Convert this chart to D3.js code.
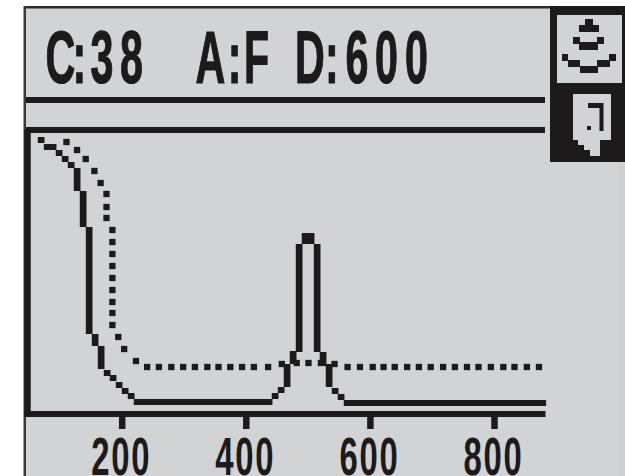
<!DOCTYPE html>
<html>
<head>
<meta charset="utf-8">
<script src="https://cdn.jsdelivr.net/npm/d3@7"></script>
<style>
  html, body { margin: 0; padding: 0; background: #fff; overflow: hidden; }
  svg { display: block; }
  text { font-family: "Liberation Sans", sans-serif; font-weight: 700; fill: #1c1a1b; }
</style>
</head>
<body>
<div id="chart"></div>
<script>
// status line
const statusLabels = ["C:38", "A:F", "D:600"];

// x axis
const tickValues = [200, 400, 600, 800];

// solid trace, one entry per LCD column: centre, top and bottom of the lit run
const solidFreq = [
  69.6, 79.3, 88.9, 98.6, 108.3, 118, 127.6, 137.3, 147, 156.6,
  166.3, 176, 185.6, 195.3, 205, 214.7, 224.3, 234, 243.7, 253.3,
  263, 272.7, 282.3, 292, 301.7, 311.4, 321, 330.7, 340.4, 350,
  359.7, 369.4, 379, 388.7, 398.4, 408, 417.7, 427.4, 437, 446.7,
  456.4, 466, 475.7, 485.4, 495, 504.7, 514.4, 524, 533.7, 543.4,
  553, 562.7, 572.4, 582, 591.7, 601.4, 611, 620.7, 630.4, 640,
  649.7, 659.4, 669, 678.7, 688.4, 698, 707.7, 717.4, 727, 736.7,
  746.4, 756, 765.7, 775.4, 785, 794.7, 804.4, 814, 823.7, 833.4,
  843, 852.7, 862.4, 872, 878
];
const solidHigh = [
  277, 270, 270, 264, 258, 252, 246, 223, 187, 80,
  68, 44, 39, 32, 26, 21, 15, 15, 15, 15,
  15, 15, 15, 15, 15, 15, 15, 15, 15, 15,
  15, 15, 15, 15, 15, 15, 15, 15, 15, 21,
  27, 50, 63, 170, 181, 181, 170, 62, 50, 26,
  20, 14, 14, 14, 14, 14, 14, 14, 14, 14,
  14, 14, 14, 14, 14, 14, 14, 14, 14, 14,
  14, 14, 14, 14, 14, 14, 14, 14, 14, 14,
  14, 14, 14, 14, 14
];
const solidLow = [
  271, 264, 264, 258, 252, 246, 223, 187, 80, 68,
  45, 38, 33, 26, 20, 15, 9, 9, 9, 9,
  9, 9, 9, 9, 9, 9, 9, 9, 9, 9,
  9, 9, 9, 9, 9, 9, 9, 9, 9, 15,
  21, 27, 50, 62, 170, 170, 62, 48, 27, 20,
  14, 8, 8, 8, 8, 8, 8, 8, 8, 8,
  8, 8, 8, 8, 8, 8, 8, 8, 8, 8,
  8, 8, 8, 8, 8, 8, 8, 8, 8, 8,
  8, 8, 8, 8, 8
];

// dotted trace
const dotFreq = [
  111, 128, 142, 156, 166, 175.5, 175.5, 175.5, 185, 185,
  185, 185, 185, 185, 185, 185, 185, 194.5, 204, 223,
  241, 260, 280, 299, 318, 338, 356, 375, 394, 413,
  436, 458, 482, 501, 521, 543, 564, 584, 604.5, 622,
  640, 660, 679, 698, 718, 737, 756.5, 775, 795, 815,
  833, 853, 872.5
];
const dotAmp = [
  272, 264, 255, 243, 231, 220, 207, 196, 184, 172,
  160, 148, 136, 124, 112, 101, 89, 77, 65, 53,
  47, 47, 47, 47, 47, 47, 47, 47, 47, 47,
  47, 50, 51, 51, 51, 50, 47, 47, 47, 47,
  47, 47, 47, 47, 47, 47, 47, 47, 47, 47,
  47, 47, 47
];

const width = 625;
const height = 476;
const panel = "#d1d3d4";
const ink = "#1c1a1b";

const svg = d3.select("#chart")
  .append("svg")
  .attr("width", width)
  .attr("height", height);

// Display panel
svg.append("rect").attr("x", 24).attr("y", 6).attr("width", 601).attr("height", 470).attr("fill", "#cfcfcf");
svg.append("rect").attr("x", 26).attr("y", 8).attr("width", 592).attr("height", 468).attr("fill", panel);
svg.append("rect").attr("x", 24).attr("y", 6).attr("width", 601).attr("height", 2.5).attr("fill", "#2b2a2b");
svg.append("rect").attr("x", 23.5).attr("y", 6).attr("width", 2.5).attr("height", 470).attr("fill", "#3a393a");

// Scales
const x = d3.scaleLinear().domain([200, 800]).range([121.7, 494]);
const y = d3.scaleLinear().domain([0, 284]).range([414, 130]);

// Header rules
[100, 130].forEach(ry => {
  svg.append("line")
    .attr("x1", 26).attr("x2", 545)
    .attr("y1", ry).attr("y2", ry)
    .attr("stroke", ink)
    .attr("stroke-width", 6);
});

// Condensed lettering: no condensed face is installed, so squeeze it and place each glyph
function placeGlyphs(sel, left, squeeze) {
  sel.attr("x", left.map(v => (v / squeeze).toFixed(1)).join(" "));
}

// Status line
const statusLeft = [
  [45.5, 72.5, 90.5, 120],
  [195.5, 227.8, 244],
  [295, 325, 345.5, 375, 405]
];
const statusSqueeze = 0.55;
statusLabels.forEach((label, i) => {
  svg.append("text")
    .attr("transform", `translate(0, 83) scale(${statusSqueeze}, 1)`)
    .attr("font-size", 75)
    .attr("stroke", ink)
    .attr("stroke-width", 1.2)
    .text(label)
    .call(placeGlyphs, statusLeft[i], statusSqueeze);
});

// Plot frame
svg.append("line")
  .attr("x1", 27.5).attr("x2", 27.5)
  .attr("y1", 130).attr("y2", 414)
  .attr("stroke", ink)
  .attr("stroke-width", 6.5);

// Axis
const xAxis = d3.axisBottom(x)
  .tickValues(tickValues)
  .tickSize(15)
  .tickSizeOuter(0)
  .tickPadding(9);

const axisG = svg.append("g")
  .attr("transform", `translate(0, ${y(0)})`)
  .call(xAxis);

axisG.select(".domain")
  .attr("d", `M24,0H${x(883)}`)
  .attr("stroke", ink)
  .attr("stroke-width", 6);

axisG.selectAll(".tick line")
  .attr("stroke", ink)
  .attr("stroke-width", 6.5);

const tickSqueeze = 0.62;
axisG.selectAll(".tick text")
  .attr("font-size", 53)
  .attr("font-family", null)
  .attr("text-anchor", "start")
  .attr("transform", `translate(0, 61) scale(${tickSqueeze}, 1)`)
  .attr("y", 0)
  .attr("dy", 0)
  .style("fill", ink)
  .call(placeGlyphs, [-31, -11, 9], tickSqueeze);

// Solid trace
const columnWidth = x(200 + 9.67) - x(200);
svg.append("g")
  .attr("fill", ink)
  .selectAll("rect")
  .data(solidFreq)
  .join("rect")
  .attr("x", d => x(d) - columnWidth / 2)
  .attr("y", (d, i) => y(solidHigh[i]))
  .attr("width", columnWidth + 0.7)
  .attr("height", (d, i) => y(solidLow[i]) - y(solidHigh[i]));

// Dotted trace
const dotSize = 6.3;
svg.append("g")
  .attr("fill", ink)
  .selectAll("rect")
  .data(dotFreq)
  .join("rect")
  .attr("x", d => x(d) - dotSize / 2)
  .attr("y", (d, i) => y(dotAmp[i]) - dotSize / 2)
  .attr("width", dotSize)
  .attr("height", dotSize);

// Icon column
svg.append("rect").attr("x", 550).attr("y", 6).attr("width", 75).attr("height", 156).attr("fill", ink);
svg.append("rect").attr("x", 557).attr("y", 15).attr("width", 65).attr("height", 68).attr("fill", panel);

// Echo icon
const echoBlocks = [
  [585, 19, 8, 6], [579, 25, 20, 7],
  [573, 37, 7, 7], [597, 37, 7, 7], [579, 42, 19, 8],
  [562, 54, 6, 7], [609, 54, 7, 7], [568, 60, 12, 7], [597, 60, 13, 7], [580, 66, 18, 7]
];
svg.append("g")
  .attr("fill", ink)
  .selectAll("rect")
  .data(echoBlocks)
  .join("rect")
  .attr("x", d => d[0])
  .attr("y", d => d[1])
  .attr("width", d => d[2])
  .attr("height", d => d[3]);

// File icon
svg.append("path")
  .attr("d", "M573,94H611V140H600V156H590V150H584V145H578V140H573Z")
  .attr("fill", panel);
svg.append("path")
  .attr("d", "M588,103H603.5V131H599.5V108H588Z")
  .attr("fill", ink);
svg.append("rect").attr("x", 587).attr("y", 126).attr("width", 4).attr("height", 4).attr("fill", ink);
</script>
</body>
</html>
